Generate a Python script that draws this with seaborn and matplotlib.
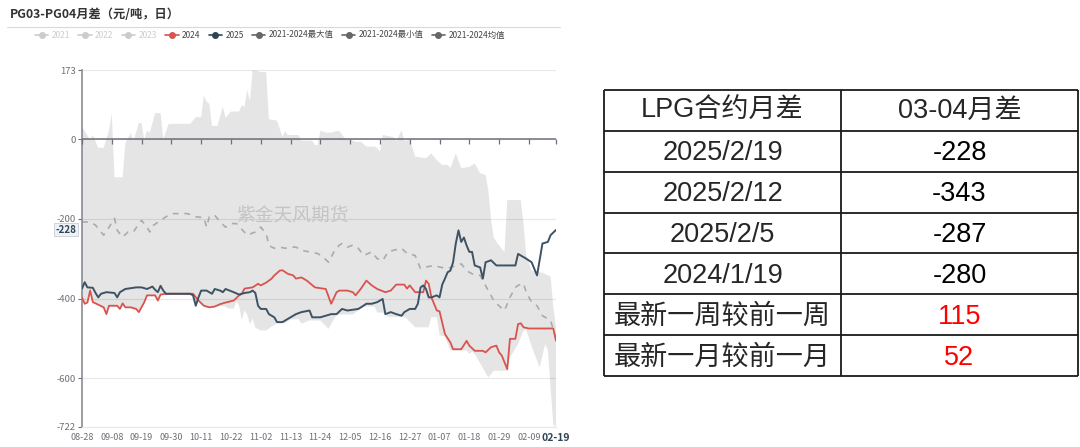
import numpy as np
import pandas as pd
import matplotlib
matplotlib.use("Agg")
import matplotlib.pyplot as plt
import matplotlib.transforms as mtransforms
from matplotlib.lines import Line2D
import seaborn as sns

# day index counted from 2024-08-28 (season axis 08-28 .. 02-19)
start = pd.Timestamp("2024-08-28")
last_day = 175

max_day = [0, 3, 4, 6, 8, 10, 11, 12, 15, 16, 18, 19, 21, 22, 23, 24, 25, 27, 29, 30, 32, 40, 42, 44,
           45, 46, 47, 48, 50, 52, 53, 55, 58, 59, 60, 61, 62, 63, 66, 68, 69, 72, 74, 75, 76, 80, 81,
           85, 86, 87, 88, 90, 92, 94, 95, 97, 99, 101, 103, 105, 108, 109, 110, 111, 115, 116, 118,
           119, 121, 123, 127, 129, 131, 133, 135, 136, 138, 140, 143, 145, 147, 149, 150, 151, 152,
           153, 155, 156, 157, 162, 163, 164, 166, 170, 173, 174, 175]
max_val = [31, -2, 10, -22, -22, 22, 65, -96, -96, -10, 15, -5, 40, 40, -3, 22, 15, 65, 65, 0, 38, 38,
           55, 55, 110, 94, 88, 33, 33, 81, 53, 69, 69, 85, 80, 123, 95, 173, 168, 168, 50, 46, 6, 20,
           10, 10, -4, -4, -15, -15, 21, 16, 16, 20, 20, 2, -2, -7, -7, -19, -19, -23, -32, 10, 5, -6,
           22, -5, -2, -44, -48, -36, -53, -65, -65, -73, -36, -73, -70, -61, -86, -90, -128, -200,
           -246, -258, -275, -283, -153, -153, -212, -290, -330, -335, -345, -420, -470]

min_day = [0, 1, 2, 3, 4, 5, 8, 9, 10, 13, 14, 15, 16, 18, 20, 21, 23, 24, 27, 28, 29, 31, 41, 42, 43,
           45, 47, 49, 51, 53, 54, 56, 57, 58, 59, 60, 61, 62, 63, 64, 66, 68, 70, 72, 75, 77, 80, 81,
           84, 88, 91, 94, 100, 104, 108, 109, 111, 113, 119, 120, 123, 128, 129, 131, 132, 134, 136,
           142, 143, 144, 145, 150, 152, 157, 158, 161, 163, 164, 166, 169, 171, 172, 174, 175]
min_val = [-400, -415, -412, -382, -411, -414, -424, -441, -420, -420, -428, -414, -424, -424, -428,
           -436, -411, -394, -394, -407, -392, -390, -392, -420, -407, -420, -424, -422, -418, -420,
           -425, -425, -408, -418, -455, -430, -440, -465, -450, -473, -480, -480, -470, -462, -462,
           -452, -452, -463, -455, -455, -476, -440, -440, -420, -420, -435, -435, -446, -446, -451,
           -472, -472, -447, -447, -492, -495, -530, -530, -539, -533, -539, -598, -581, -581, -548,
           -514, -480, -478, -520, -573, -514, -530, -715, -722]

mean_day = [0, 3, 5, 8, 10, 12, 13, 15, 17, 19, 21, 22, 24, 25, 26, 29, 31, 33, 39, 42, 45, 46, 47,
            49, 51, 53, 55, 57, 61, 64, 66, 68, 69, 71, 73, 75, 77, 79, 81, 84, 87, 89, 91, 93, 95,
            96, 98, 100, 102, 104, 107, 109, 111, 113, 115, 118, 120, 123, 125, 127, 130, 132, 135,
            138, 140, 142, 144, 147, 148, 150, 152, 155, 156, 158, 160, 161, 163, 164, 166, 168, 170,
            173, 175]
mean_val = [-208, -208, -216, -241, -221, -199, -229, -246, -233, -233, -212, -204, -221, -233, -218,
            -204, -195, -187, -187, -195, -197, -221, -195, -191, -208, -221, -212, -212, -241, -233,
            -221, -237, -267, -274, -271, -274, -271, -271, -279, -283, -287, -296, -309, -283, -266,
            -262, -271, -266, -274, -292, -283, -300, -305, -283, -279, -274, -287, -292, -325, -321,
            -317, -321, -325, -317, -313, -330, -338, -342, -355, -380, -405, -425, -430, -397, -372,
            -367, -362, -384, -409, -418, -443, -455, -500]

y2024_day = [0, 1, 2, 3, 4, 5, 8, 9, 10, 13, 14, 15, 16, 18, 20, 21, 23, 24, 27, 28, 29, 31, 41, 43,
             45, 47, 49, 51, 53, 56, 58, 59, 60, 63, 65, 66, 68, 70, 71, 73, 74, 76, 78, 79, 81, 83,
             86, 88, 90, 92, 94, 95, 98, 100, 101, 103, 105, 107, 109, 112, 114, 116, 119, 120, 121,
             123, 126, 127, 128, 129, 131, 132, 134, 136, 137, 140, 142, 143, 145, 148, 149, 151, 153,
             154, 155, 156, 157, 158, 160, 161, 162, 163, 165, 174, 175]
y2024_val = [-397, -413, -410, -380, -409, -412, -422, -439, -418, -418, -426, -412, -422, -422, -426,
             -434, -409, -392, -392, -405, -390, -388, -388, -405, -418, -422, -420, -414, -410, -405,
             -392, -388, -375, -372, -363, -367, -360, -350, -342, -330, -329, -338, -342, -350, -347,
             -355, -372, -374, -376, -413, -384, -380, -380, -384, -392, -375, -355, -367, -376, -384,
             -380, -365, -365, -375, -367, -384, -384, -355, -363, -397, -430, -432, -489, -510, -527,
             -527, -506, -518, -531, -531, -535, -522, -518, -535, -543, -560, -577, -501, -501, -464,
             -462, -472, -475, -475, -506]

y2025_day = [0, 1, 2, 4, 5, 6, 7, 9, 12, 13, 14, 16, 20, 22, 24, 26, 27, 28, 29, 30, 31, 40, 41, 42,
             43, 44, 46, 48, 49, 51, 52, 53, 56, 58, 60, 62, 63, 64, 65, 66, 68, 69, 71, 72, 74, 76,
             78, 79, 81, 84, 85, 88, 90, 92, 94, 96, 98, 102, 103, 105, 107, 109, 111, 112, 114, 116,
             118, 119, 121, 123, 124, 125, 126, 127, 128, 129, 131, 132, 133, 134, 135, 136, 137, 138,
             139, 140, 141, 142, 143, 144, 145, 147, 148, 149, 151, 153, 160, 161, 163, 164, 166, 168,
             170, 172, 173, 175]
y2025_val = [-375, -359, -372, -373, -386, -397, -388, -384, -386, -397, -384, -376, -372, -372, -376,
             -370, -378, -384, -368, -380, -388, -388, -392, -418, -397, -380, -380, -388, -376, -380,
             -384, -376, -384, -390, -386, -384, -380, -386, -418, -426, -426, -439, -447, -459, -459,
             -451, -443, -439, -434, -430, -447, -447, -443, -439, -439, -426, -430, -426, -422, -413,
             -413, -409, -401, -439, -434, -439, -443, -434, -426, -426, -413, -372, -367, -376, -397,
             -397, -392, -397, -365, -350, -334, -330, -309, -262, -229, -258, -247, -267, -283, -283,
             -317, -322, -350, -309, -304, -317, -317, -288, -296, -300, -309, -342, -262, -258, -241,
             -228]

y_ticks = [173, 0, -200, -400, -600, -722]

legend_names = ["2021", "2022", "2023", "2024", "2025",
                "2021-2024最大值", "2021-2024最小值", "2021-2024均值"]

table_header = ["LPG合约月差", "03-04月差"]
table_labels = ["2025/2/19", "2025/2/12", "2025/2/5", "2024/1/19", "最新一周较前一周", "最新一月较前一月"]
table_values = ["-228", "-343", "-287", "-280", "115", "52"]

red = "#d9534f"
navy = "#3d5365"
gray_txt = "#6e7079"

sns.set_theme(style="white")
plt.rcParams["font.family"] = ["Noto Sans CJK SC", "DejaVu Sans"]
plt.rcParams["axes.unicode_minus"] = False

fig = plt.figure(figsize=(10.8, 4.47), dpi=100)
ax = fig.add_axes([82 / 1080, 1 - 427 / 447, 474 / 1080, 357 / 447])

# band between 2021-2024 min and max
ax.fill(np.r_[max_day, min_day[::-1]], np.r_[max_val, min_val[::-1]],
        color="black", alpha=0.1, lw=0, zorder=1)

sns.lineplot(x=mean_day, y=mean_val, ax=ax, color="#ababab", lw=1.2,
             linestyle=(0, (3.5, 3.5)), zorder=2)
sns.lineplot(x=y2024_day, y=y2024_val, ax=ax, color=red, lw=1.3, zorder=3)
sns.lineplot(x=y2025_day, y=y2025_val, ax=ax, color=navy, lw=1.4, zorder=4)

ax.set_xlim(0, last_day)
ax.set_ylim(min(y_ticks), max(y_ticks))
ax.set_yticks(y_ticks)
ax.set_yticklabels([str(v) for v in y_ticks])
ax.grid(axis="y", color="#e8e8e8", lw=0.8)
ax.set_axisbelow(True)

x_ticks = list(range(0, last_day, 11)) + [last_day]
x_labels = [(start + pd.Timedelta(days=d)).strftime("%m-%d") for d in x_ticks]
ax.set_xticks(x_ticks)
ax.set_xticklabels(x_labels)
ax.tick_params(axis="x", length=0, pad=4, labelsize=6.5, labelcolor=gray_txt)
ax.tick_params(axis="y", length=3, width=0.8, color=gray_txt, pad=1.5, labelsize=6.8,
               labelcolor=gray_txt, left=True)
last_lab = ax.get_xticklabels()[-1]
last_lab.set_fontweight("bold")
last_lab.set_fontsize(7.5)
last_lab.set_color("#2f4554")
last_lab.set_bbox(dict(facecolor="white", edgecolor="none", pad=1))

for s in ["top", "right"]:
    ax.spines[s].set_visible(False)
ax.spines["bottom"].set_color("#e8e8e8")
ax.spines["bottom"].set_linewidth(0.8)
ax.spines["left"].set_color("#8a8c94")
ax.spines["left"].set_linewidth(1.2)

# category axis line sits on zero, with its tick marks
ax.axhline(0, color=gray_txt, lw=1.1, zorder=5)
ax.plot(x_ticks, [0] * len(x_ticks), ls="none", marker=3, markersize=3.5,
        markeredgewidth=0.9, color=gray_txt, zorder=5, clip_on=False)

# latest value marker on y axis
trans = mtransforms.blended_transform_factory(ax.transAxes, ax.transData)
ax.text(-0.012, y2025_val[-1], str(y2025_val[-1]), transform=trans, ha="right", va="center",
        fontsize=7, fontweight="bold", color="#2f4554", zorder=10, clip_on=False,
        bbox=dict(boxstyle="square,pad=0.15", fc="#eef1f5", ec="#c9ccd2", lw=0.6))

# watermark
ax.text(0.443, 0.592, "紫金天风期货", transform=ax.transAxes, ha="center", va="center",
        fontsize=13.5, color="#c4c4c4", zorder=5)

# title + separator
fig.text(10 / 1080, 1 - 14 / 447, "PG03-PG04月差（元/吨，日）", ha="left", va="center",
         fontsize=8.8, fontweight="bold", color="#333333")
fig.add_artist(Line2D([7 / 1080, 560 / 1080], [1 - 27 / 447, 1 - 27 / 447],
                      transform=fig.transFigure, color="#d9d9d9", lw=0.8))

# legend
leg_colors = ["#cccccc", "#cccccc", "#cccccc", red, "#2f4554", "#666666", "#666666", "#666666"]
text_colors = ["#cccccc", "#cccccc", "#cccccc", "#444444", "#444444", "#444444", "#444444", "#444444"]
handles = [Line2D([], [], color=c, lw=1.2, marker="o", markersize=4) for c in leg_colors]
leg = fig.legend(handles, legend_names, loc="center", bbox_to_anchor=(270 / 1080, 1 - 35 / 447),
                 ncol=8, frameon=False, fontsize=6, handlelength=1.6, handletextpad=0.4,
                 columnspacing=1.0)
for t, c in zip(leg.get_texts(), text_colors):
    t.set_color(c)

# table on the right
tax = fig.add_axes([604 / 1080, 1 - 376 / 447, 474 / 1080, 286 / 447])
n_rows = len(table_labels) + 1
tax.set_xlim(0, 2)
tax.set_ylim(n_rows, 0)
tax.axis("off")
tax.hlines(range(n_rows + 1), 0, 2, color="#1a1a1a", lw=1.3, clip_on=False)
tax.vlines([0, 1, 2], 0, n_rows, color="#1a1a1a", lw=1.3, clip_on=False)
tfont = ["Liberation Sans", "Noto Sans CJK SC"]
tkw = dict(ha="center", va="center", fontsize=19.5, family=tfont, fontweight="medium")
tax.text(0.5, 0.52, table_header[0], **tkw)
tax.text(1.5, 0.52, table_header[1], **tkw)
for i, (lab, val) in enumerate(zip(table_labels, table_values)):
    vcol = "#ff0000" if lab.startswith("最新") else "black"
    tax.text(0.5, i + 1.55, lab, **tkw)
    tax.text(1.5, i + 1.55, val, color=vcol, **tkw)

fig.savefig("out.png", dpi=100)
